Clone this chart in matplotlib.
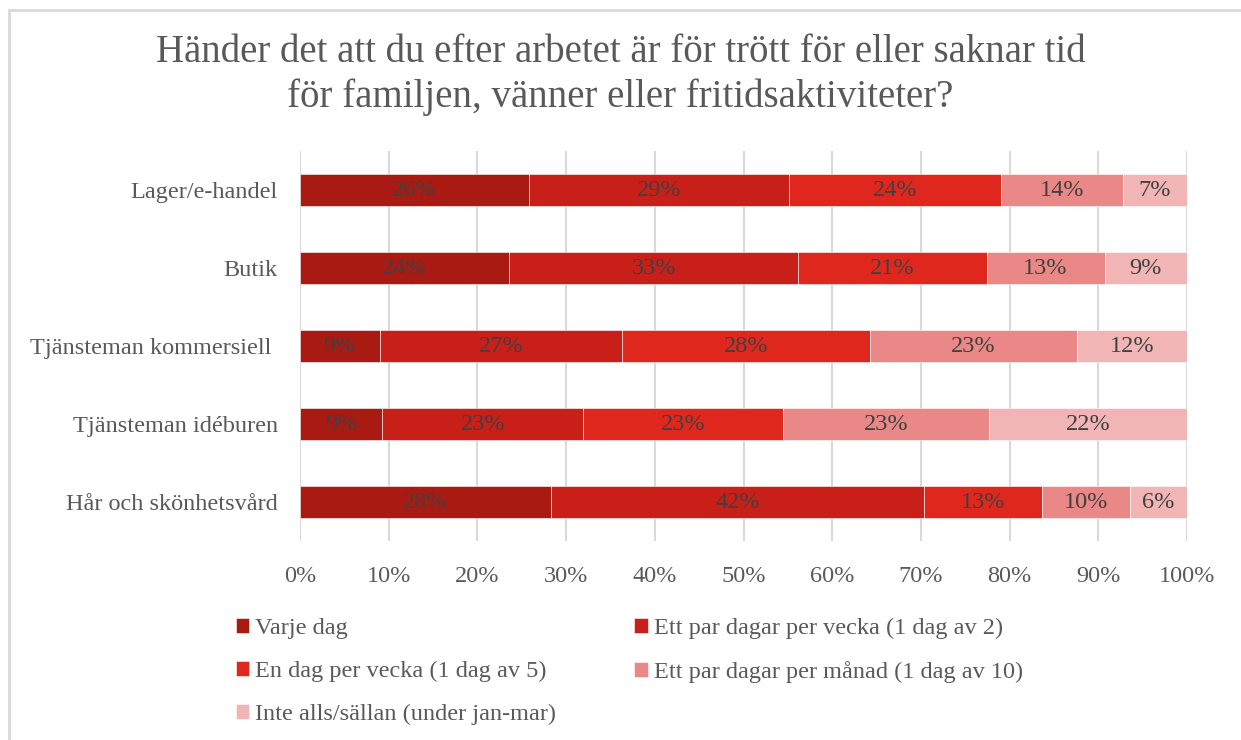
import matplotlib.pyplot as plt
import matplotlib.patches as patches
import numpy as np

categories = ['Lager/e-handel', 'Butik', 'Tjänsteman kommersiell ',
              'Tjänsteman idéburen', 'Hår och skönhetsvård']
series_names = ['Varje dag', 'Ett par dagar per vecka (1 dag av 2)',
                'En dag per vecka (1 dag av 5)', 'Ett par dagar per månad (1 dag av 10)',
                'Inte alls/sällan (under jan-mar)']
varje_dag = [25.8, 23.6, 9.0, 9.3, 28.3]
par_dagar_vecka = [29.3, 32.6, 27.3, 22.6, 42.1]
en_dag_vecka = [23.9, 21.2, 28.0, 22.6, 13.2]
par_dagar_manad = [13.8, 13.3, 23.3, 23.2, 10.0]
inte_alls = [7.2, 9.3, 12.4, 22.3, 6.4]
colors = ['#A91A13', '#C81F18', '#E0271D', '#E98886', '#F0B5B4']

plt.rcParams['font.family'] = ['Liberation Serif', 'DejaVu Serif']
text_color = '#595959'

fig = plt.figure(figsize=(12.41, 7.4), dpi=100)
ax = fig.add_axes([300 / 1241, 1 - 541 / 740, 887 / 1241, 390 / 740])

# chart area border (only top/left visible in the crop)
fig.patches.append(patches.Rectangle((9 / 1241, -0.1), 1.2, 1 - 10 / 740 + 0.1,
                                     transform=fig.transFigure, fill=False,
                                     edgecolor='#D9D9D9', linewidth=2))

y = np.arange(len(categories))
left = np.zeros(len(categories))
handles = []
for name, vals, c in zip(series_names,
                         [varje_dag, par_dagar_vecka, en_dag_vecka, par_dagar_manad, inte_alls],
                         colors):
    vals = np.array(vals)
    h = ax.barh(y, vals, left=left, height=0.41, color=c, edgecolor='white',
                linewidth=0.4, label=name, zorder=3)
    handles.append(h)
    for yi, l, v in zip(y, left, vals):
        ax.text(l + v / 2, yi, f'{round(v):.0f}%', ha='center', va='center',
                fontsize=17.5, color='#404040', zorder=4)
    left += vals

ax.set_xlim(0, 100)
ax.set_ylim(4.5, -0.5)
ax.set_yticks(y)
ax.set_yticklabels(categories, fontsize=17.5, color=text_color)
ax.set_xticks(np.arange(0, 101, 10))
ax.set_xticklabels([f'{v}%' for v in range(0, 101, 10)], fontsize=17.5, color=text_color)
ax.tick_params(axis='both', length=0)
ax.tick_params(axis='x', pad=18)
ax.tick_params(axis='y', pad=16)
ax.grid(axis='x', color='#D9D9D9', linewidth=1.5, zorder=0)
for s in ax.spines.values():
    s.set_visible(False)

fig.text(0.5, 1 - 52 / 740, 'Händer det att du efter arbetet är för trött för eller saknar tid',
         ha='center', va='center', fontsize=28, color=text_color)
fig.text(0.5, 1 - 97 / 740, 'för familjen, vänner eller fritidsaktiviteter?',
         ha='center', va='center', fontsize=28, color=text_color)

order = [0, 2, 4, 1, 3]
leg = fig.legend([handles[i] for i in order], [series_names[i] for i in order],
                 ncol=2, loc='upper left', bbox_to_anchor=(236 / 1241, 1 - 618 / 740),
                 frameon=False, fontsize=17.5, handlelength=0.55, handleheight=0.55,
                 handletextpad=0.25, labelspacing=0.9, columnspacing=3.2,
                 borderaxespad=0, borderpad=0)
for t in leg.get_texts():
    t.set_color(text_color)

fig.savefig('out.png', dpi=100, facecolor='white')
